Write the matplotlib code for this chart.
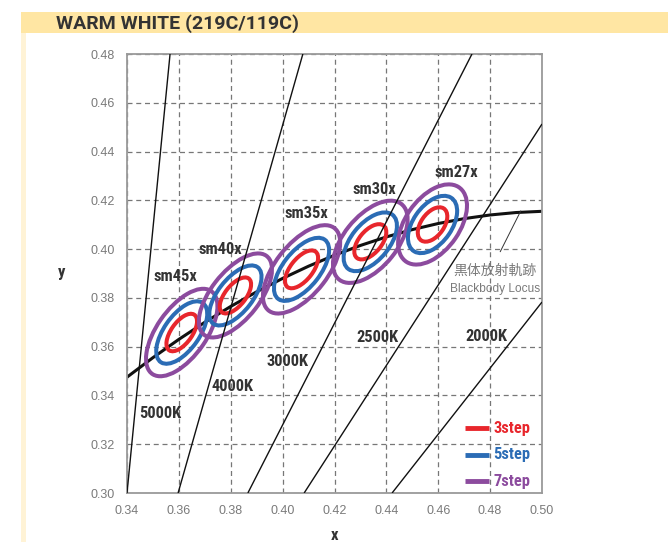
import matplotlib
matplotlib.use("Agg")
import matplotlib.pyplot as plt
from matplotlib.patches import Ellipse, Rectangle
from matplotlib import font_manager
import numpy as np

# ---------------- data ----------------
x_ticks = [0.34, 0.36, 0.38, 0.40, 0.42, 0.44, 0.46, 0.48, 0.50]
y_ticks = [0.30, 0.32, 0.34, 0.36, 0.38, 0.40, 0.42, 0.44, 0.46, 0.48]

# Planckian (blackbody) locus
locus_x = [0.34, 0.35, 0.36, 0.37, 0.38, 0.39, 0.40, 0.41, 0.42,
           0.43, 0.44, 0.45, 0.46, 0.47, 0.48, 0.49, 0.50]
locus_y = [0.3475, 0.3555, 0.3630, 0.3700, 0.3765, 0.3825, 0.3880, 0.3930, 0.3975,
           0.4015, 0.4050, 0.4080, 0.4105, 0.4125, 0.4140, 0.4150, 0.4155]

# isotherm (CCT) lines: start and end points
iso_x0 = [0.3400, 0.3597, 0.3866, 0.4083, 0.4422]
iso_y0 = [0.30, 0.30, 0.30, 0.30, 0.30]
iso_x1 = [0.3566, 0.4078, 0.4730, 0.50, 0.50]
iso_y1 = [0.48, 0.48, 0.48, 0.4513, 0.3783]
iso_labels = ["5000K", "4000K", "3000K", "2500K", "2000K"]
iso_label_x = [0.3527, 0.3807, 0.4019, 0.4364, 0.4784]
iso_label_y = [0.3328, 0.3435, 0.3541, 0.3636, 0.3640]

# MacAdam ellipses (1-step semi axes, orientation)
bin_names = ["sm45x", "sm40x", "sm35x", "sm30x", "sm27x"]
bin_cx = [0.3611, 0.3818, 0.4073, 0.4338, 0.4578]
bin_cy = [0.3658, 0.3810, 0.3917, 0.4030, 0.4101]
bin_a = [0.00292, 0.00288, 0.00302, 0.00280, 0.00262]
bin_b = [0.00138, 0.00135, 0.00145, 0.00148, 0.00150]
bin_theta = [57.0, 54.0, 54.0, 53.1, 57.3]
bin_label_x = [0.3585, 0.3758, 0.4093, 0.4352, 0.4668]
bin_label_y = [0.3886, 0.4000, 0.4148, 0.4246, 0.4316]

steps = [3, 5, 7]
step_labels = ["3step", "5step", "7step"]
step_colors = ["#E8262C", "#2B6CB5", "#8C4B9E"]

# ---------------- fonts ----------------
avail = {f.name for f in font_manager.fontManager.ttflist}
def pick(*names):
    for n in names:
        if n in avail:
            return n
    return "DejaVu Sans"

BOLD = pick("Roboto Condensed", "Roboto", "Liberation Sans")
bold_cond = BOLD == "Roboto Condensed"
TITLE = pick("Roboto", "Liberation Sans")
NARROW = pick("Liberation Sans Narrow", "Liberation Sans")
narrow = NARROW == "Liberation Sans Narrow"
CJK = pick("Noto Sans CJK JP", "Noto Sans CJK SC")

lab_size = 11.8 if bold_cond else 10.3
tick_size = 10.5 if narrow else 9.0
locus_size = 10.0 if narrow else 8.6

DARK = "#333333"
GRAY = "#7a7a7a"

# ---------------- figure ----------------
fig = plt.figure(figsize=(6.68, 5.42), dpi=100)
W, H = 668.0, 542.0

fig.patches.append(Rectangle((21 / W, 1 - 33 / H), (W - 21) / W, 21 / H,
                             transform=fig.transFigure, facecolor="#FFE6A3",
                             edgecolor="none", zorder=0))
fig.patches.append(Rectangle((21 / W, 0), 5 / W, 1 - 33 / H,
                             transform=fig.transFigure, facecolor="#FFF3D6",
                             edgecolor="none", zorder=0))
fig.text(56 / W, 1 - 23.5 / H, "WARM WHITE (219C/119C)", fontsize=14.0,
         fontweight="bold", family=TITLE, color=DARK, va="center", ha="left")

ax = fig.add_axes([127 / W, 1 - 493 / H, 415 / W, 439 / H])
ax.set_xlim(0.34, 0.50)
ax.set_ylim(0.30, 0.48)
ax.set_xticks(x_ticks)
ax.set_yticks(y_ticks)
ax.set_xticklabels([f"{v:.2f}" for v in x_ticks])
ax.set_yticklabels([f"{v:.2f}" for v in y_ticks])
ax.tick_params(length=0, pad=9, labelsize=tick_size, labelcolor=GRAY)
for lab in ax.get_xticklabels() + ax.get_yticklabels():
    lab.set_family(NARROW)
ax.grid(True, color="#777777", linestyle=(0, (4, 3)), linewidth=0.9, zorder=0)
ax.set_axisbelow(True)
for s in ax.spines.values():
    s.set_color("#9a9a9a")
    s.set_linewidth(1.3)

# isotherm lines
for x0, y0, x1, y1 in zip(iso_x0, iso_y0, iso_x1, iso_y1):
    ax.plot([x0, x1], [y0, y1], color="#111111", lw=1.0, zorder=4,
            solid_capstyle="butt")
for t, lx, ly in zip(iso_labels, iso_label_x, iso_label_y):
    ax.text(lx, ly, t, fontsize=lab_size, fontweight="bold", family=BOLD,
            color=DARK, ha="center", va="center", zorder=6)

# blackbody locus
ax.plot(locus_x, locus_y, color="#111111", lw=2.2, zorder=2,
        solid_capstyle="butt")

# ellipses
for cx, cy, a, b, th in zip(bin_cx, bin_cy, bin_a, bin_b, bin_theta):
    for n, col in zip(steps, step_colors):
        e = Ellipse((cx, cy), width=2 * a * n, height=2 * b * n, angle=th,
                    facecolor="none", edgecolor=col, lw=2.9, zorder=3)
        ax.add_patch(e)
for name, lx, ly in zip(bin_names, bin_label_x, bin_label_y):
    ax.text(lx, ly, name, fontsize=lab_size, fontweight="bold", family=BOLD,
            color=DARK, ha="center", va="center", zorder=6)

# blackbody locus annotation
ax.annotate("", xy=(0.4923, 0.4167), xytext=(0.4834, 0.3979),
            arrowprops=dict(arrowstyle="-", color="#333333", lw=0.7))
ax.text(0.4820, 0.3910, "黒体放射軌跡", fontsize=10.0, family=[CJK, "DejaVu Sans"],
        color=GRAY, ha="center", va="center", zorder=6)
ax.text(0.4820, 0.3836, "Blackbody Locus", fontsize=locus_size, family=NARROW,
        color=GRAY, ha="center", va="center", zorder=6)

# legend (manual)
leg_y = [0.148, 0.0866, 0.0273]
for lbl, col, yy in zip(step_labels, step_colors, leg_y):
    ax.plot([0.8145, 0.8725], [yy, yy], color=col, lw=3.5,
            transform=ax.transAxes, zorder=6, solid_capstyle="butt")
    ax.text(0.8830, yy, lbl, transform=ax.transAxes, fontsize=lab_size,
            fontweight="bold", family=BOLD, color=col, ha="left", va="center",
            zorder=6)

ax.set_xlabel("x", fontsize=12, fontweight="bold", color=DARK, family=BOLD)
ax.set_ylabel("y", fontsize=12, fontweight="bold", color=DARK, family=BOLD,
              rotation=0)
ax.xaxis.set_label_coords(0.5, -0.0957)
ax.yaxis.set_label_coords(-0.157, 0.503)
ax.xaxis.label.set_va("center")
ax.yaxis.label.set_va("center")
ax.yaxis.label.set_ha("center")

fig.savefig("out.png", dpi=100, facecolor="white")
